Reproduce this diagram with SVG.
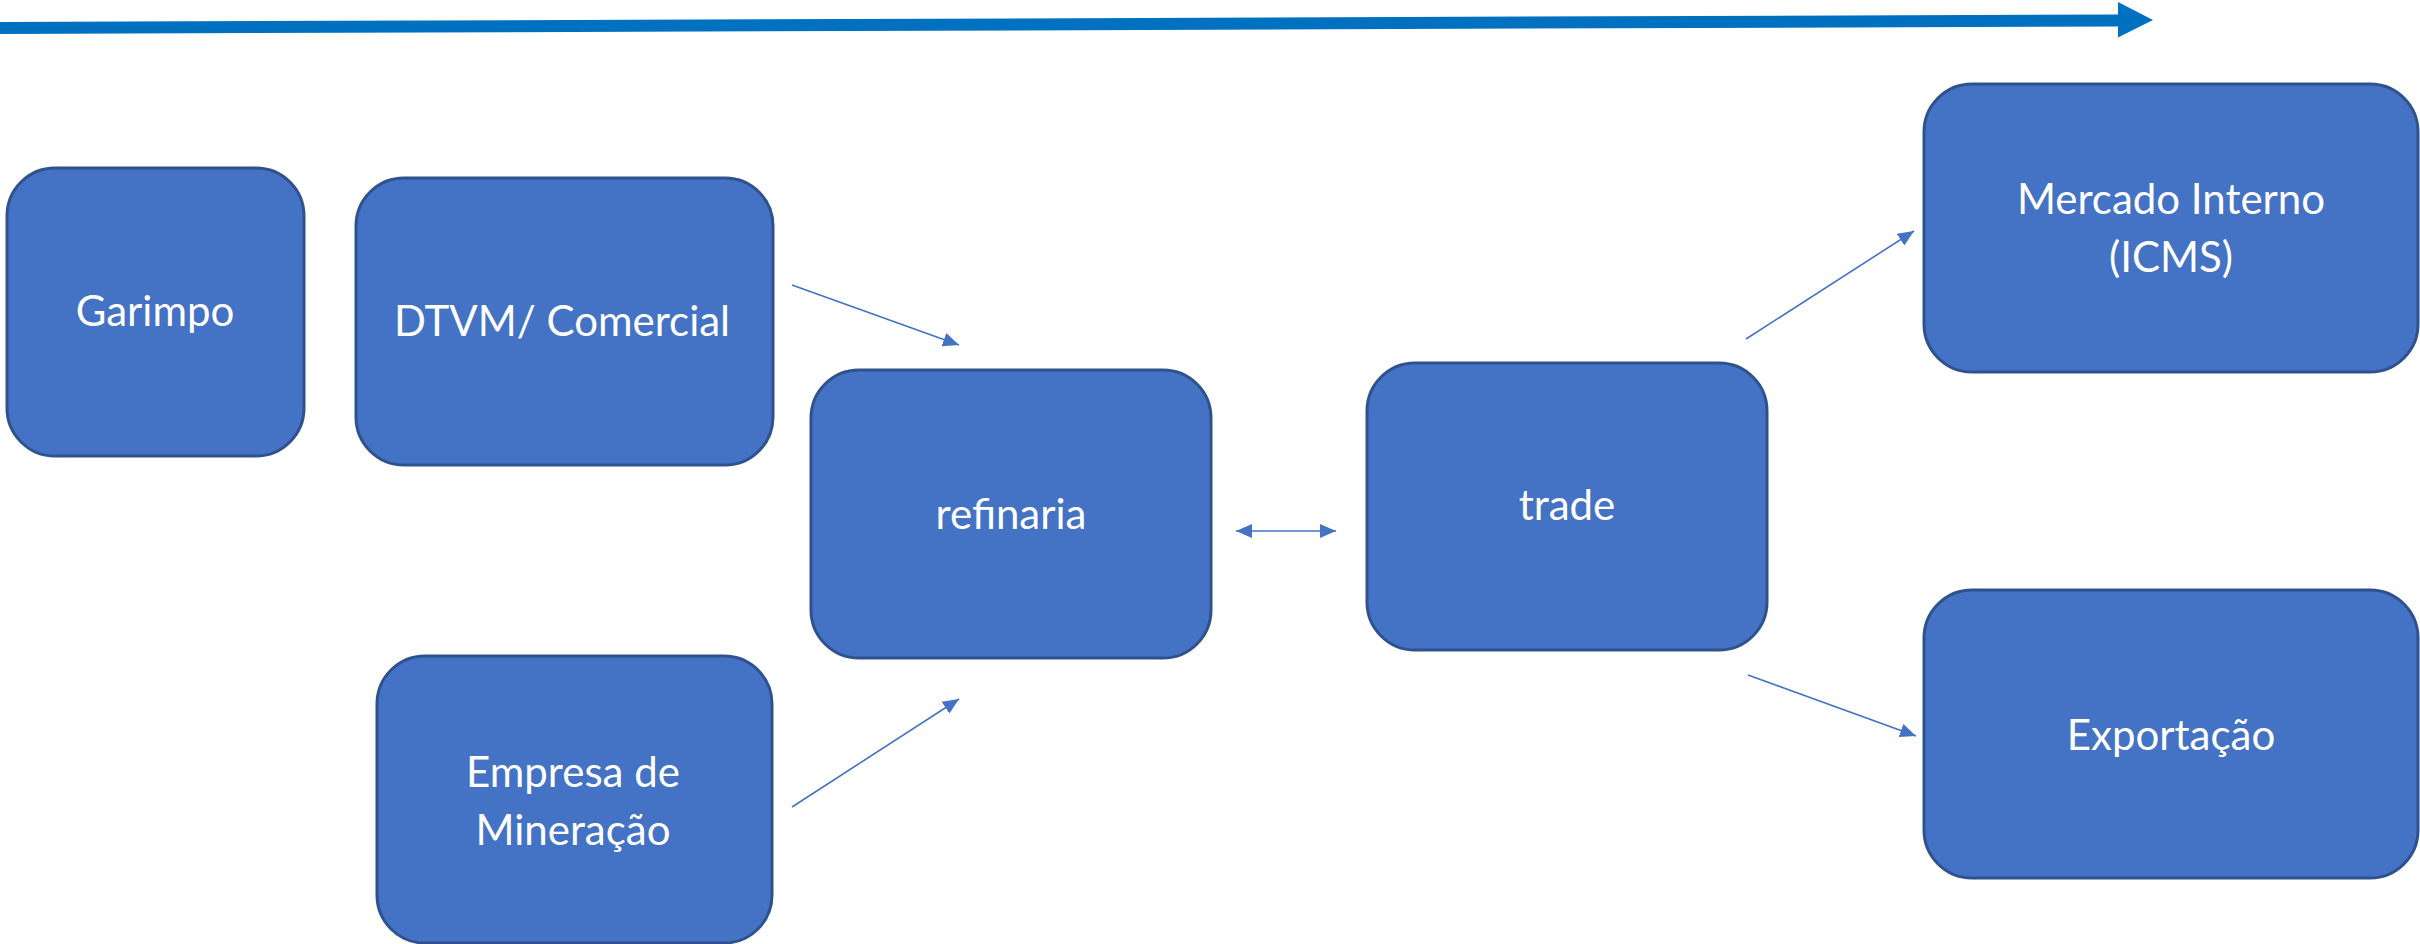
<svg xmlns="http://www.w3.org/2000/svg" width="2420" height="944" viewBox="0 0 2420 944">
<style>
.box{fill:#4472C4;stroke:#2F528F;stroke-width:3}
.lbl{font-family:Lato,"Open Sans",sans-serif;font-size:42px;fill:#FFFFFF;text-anchor:middle}
.con{stroke:#4472C4;stroke-width:1.6;fill:none}
</style>
<defs>
<marker id="ah" viewBox="0 0 16 14" refX="16" refY="7" markerWidth="16" markerHeight="14" markerUnits="userSpaceOnUse" orient="auto-start-reverse">
<path d="M0,0 L16,7 L0,14 z" fill="#4472C4"/>
</marker>
</defs>
<rect width="2420" height="944" fill="#FFFFFF"/>
<g id="timeline">
<polygon points="0,22 2118,14.5 2118,2 2153,20 2118,37.5 2118,26.5 0,34" fill="#0070C0"/>
</g>
<g id="connectors">
<line class="con" x1="792" y1="285" x2="959" y2="345" marker-end="url(#ah)"/>
<line class="con" x1="792" y1="807" x2="959" y2="699" marker-end="url(#ah)"/>
<line class="con" x1="1236" y1="531" x2="1336" y2="531" marker-start="url(#ah)" marker-end="url(#ah)"/>
<line class="con" x1="1746" y1="339" x2="1914" y2="231" marker-end="url(#ah)"/>
<line class="con" x1="1748" y1="675" x2="1916" y2="736" marker-end="url(#ah)"/>
</g>
<g id="garimpo">
<rect class="box" x="7" y="168" width="297" height="288" rx="48" ry="48"/>
<text class="lbl" x="155" y="326">Garimpo</text>
</g>
<g id="dtvm">
<rect class="box" x="356" y="178" width="417" height="287" rx="48" ry="48"/>
<text class="lbl" x="562" y="336">DTVM/ Comercial</text>
</g>
<g id="empresa">
<rect class="box" x="377" y="656" width="395" height="287" rx="48" ry="48"/>
<text class="lbl" x="573" y="787">Empresa de</text>
<text class="lbl" x="573" y="845">Mineração</text>
</g>
<g id="refinaria">
<rect class="box" x="811" y="370" width="400" height="288" rx="48" ry="48"/>
<text class="lbl" x="1011" y="529">refinaria</text>
</g>
<g id="trade">
<rect class="box" x="1367" y="363" width="400" height="287" rx="48" ry="48"/>
<text class="lbl" x="1567" y="520">trade</text>
</g>
<g id="mercado">
<rect class="box" x="1924" y="84" width="494" height="288" rx="48" ry="48"/>
<text class="lbl" x="2171" y="214">Mercado Interno</text>
<text class="lbl" x="2171" y="272">(ICMS)</text>
</g>
<g id="exportacao">
<rect class="box" x="1924" y="590" width="494" height="288" rx="48" ry="48"/>
<text class="lbl" x="2171" y="750">Exportação</text>
</g>
</svg>
